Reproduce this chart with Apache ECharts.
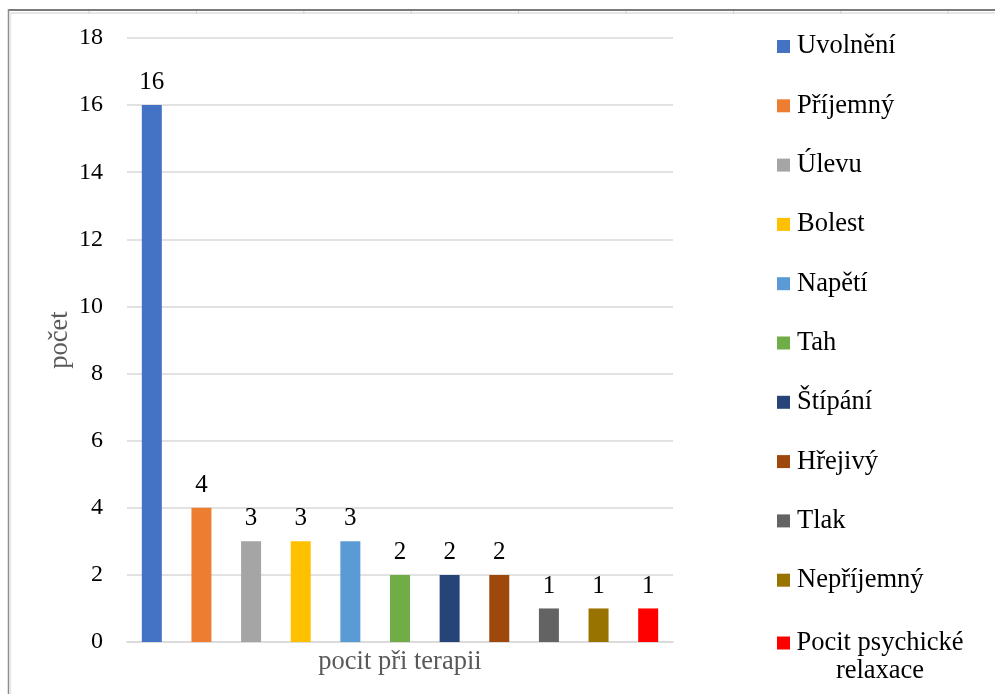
<!DOCTYPE html>
<html>
<head>
<meta charset="utf-8">
<script src="https://cdn.jsdelivr.net/npm/echarts@6/dist/echarts.min.js"></script>
<style>
html,body{margin:0;padding:0;background:#fff;}
#c{width:995px;height:694px;}
</style>
</head>
<body>
<div id="c"></div>
<script>
const categories = ['Uvolnění','Příjemný','Úlevu','Bolest','Napětí','Tah','Štípání','Hřejivý','Tlak','Nepříjemný','Pocit psychické relaxace'];
const values = [16,4,3,3,3,2,2,2,1,1,1];
const colors = ['#4472C4','#ED7D31','#A5A5A5','#FFC000','#5B9BD5','#70AD47','#264478','#9E480E','#636363','#997300','#FF0000'];
const yTicks = {min:0, max:18, interval:2};
const xTitle = 'pocit při terapii';
const yTitle = 'počet';

const FONT = '"Liberation Serif","Times New Roman",serif';

const series = categories.map((name, i) => ({
  name: name,
  type: 'bar',
  stack: 'all',
  barWidth: 20,
  itemStyle: {color: colors[i]},
  label: {show: true, position: 'top', distance: 10, fontFamily: FONT, fontSize: 25, color: '#000'},
  data: categories.map((c, j) => j === i ? values[i] : '-')
}));

const topTicks = [];
for (let x = 89; x < 995; x += 107.4) {
  topTicks.push({type:'line', shape:{x1:x, y1:11, x2:x, y2:14}, style:{stroke:'#d0d0d0', lineWidth:1}, silent:true});
}

const chart = echarts.init(document.getElementById('c'), null, {renderer:'canvas'});
chart.setOption({
  animation: false,
  backgroundColor: '#fff',
  textStyle: {fontFamily: FONT},
  grid: {left:127, right:322, top:38, bottom:52, containLabel:false},
  xAxis: {
    type: 'category',
    data: categories,
    name: xTitle,
    nameLocation: 'middle',
    nameGap: 6,
    nameMoveOverlap: false,
    nameTextStyle: {fontFamily: FONT, fontSize: 26.5, color: '#595959', lineHeight: 29},
    axisLine: {show: true, lineStyle: {color: '#d9d9d9', width: 1.5}},
    axisTick: {show: false},
    axisLabel: {show: false}
  },
  yAxis: {
    type: 'value',
    min: yTicks.min, max: yTicks.max, interval: yTicks.interval,
    name: yTitle,
    nameLocation: 'middle',
    nameGap: 52,
    nameMoveOverlap: false,
    nameRotate: 90,
    nameTextStyle: {fontFamily: FONT, fontSize: 26.5, color: '#595959', lineHeight: 29},
    axisLine: {show: false},
    axisTick: {show: false},
    axisLabel: {fontFamily: FONT, fontSize: 24, color: '#000', margin: 24},
    splitLine: {lineStyle: {color: '#d9d9d9', width: 1.5}}
  },
  legend: [
    {
      orient: 'vertical',
      left: 777, top: 32,
      padding: 0,
      itemWidth: 13, itemHeight: 13,
      itemGap: 30.3,
      icon: 'rect',
      data: categories.slice(0, 10),
      textStyle: {fontFamily: FONT, fontSize: 26.5, color: '#000', lineHeight: 29, padding: [0,0,0,2]}
    },
    {
      orient: 'vertical',
      left: 777, top: 601,
      padding: 0,
      itemWidth: 13, itemHeight: 13,
      icon: 'rect',
      data: categories.slice(10),
      formatter: function (n) {
        const parts = n.split(' ');
        return '{a|' + parts.slice(0, 2).join(' ') + '}\n{a|' + parts.slice(2).join(' ') + '}';
      },
      textStyle: {
        fontFamily: FONT, fontSize: 26.5, color: '#000', lineHeight: 28, padding: [28,0,0,2],
        rich: {a: {fontFamily: FONT, fontSize: 26.5, color: '#000', lineHeight: 28, width: 166, align: 'center'}}
      }
    }
  ],
  graphic: [
    {type:'line', shape:{x1:9, y1:10, x2:995, y2:10}, style:{stroke:'#7a7a7a', lineWidth:2}, silent:true},
    {type:'line', shape:{x1:10, y1:13, x2:995, y2:13}, style:{stroke:'#e6e6e6', lineWidth:2}, silent:true},
    {type:'line', shape:{x1:8.5, y1:9, x2:8.5, y2:694}, style:{stroke:'#8c8c8c', lineWidth:1.5}, silent:true},
    {type:'line', shape:{x1:10.5, y1:12, x2:10.5, y2:694}, style:{stroke:'#e8e8e8', lineWidth:1.5}, silent:true}
  ].concat(topTicks),
  series: series
});
</script>
</body>
</html>
